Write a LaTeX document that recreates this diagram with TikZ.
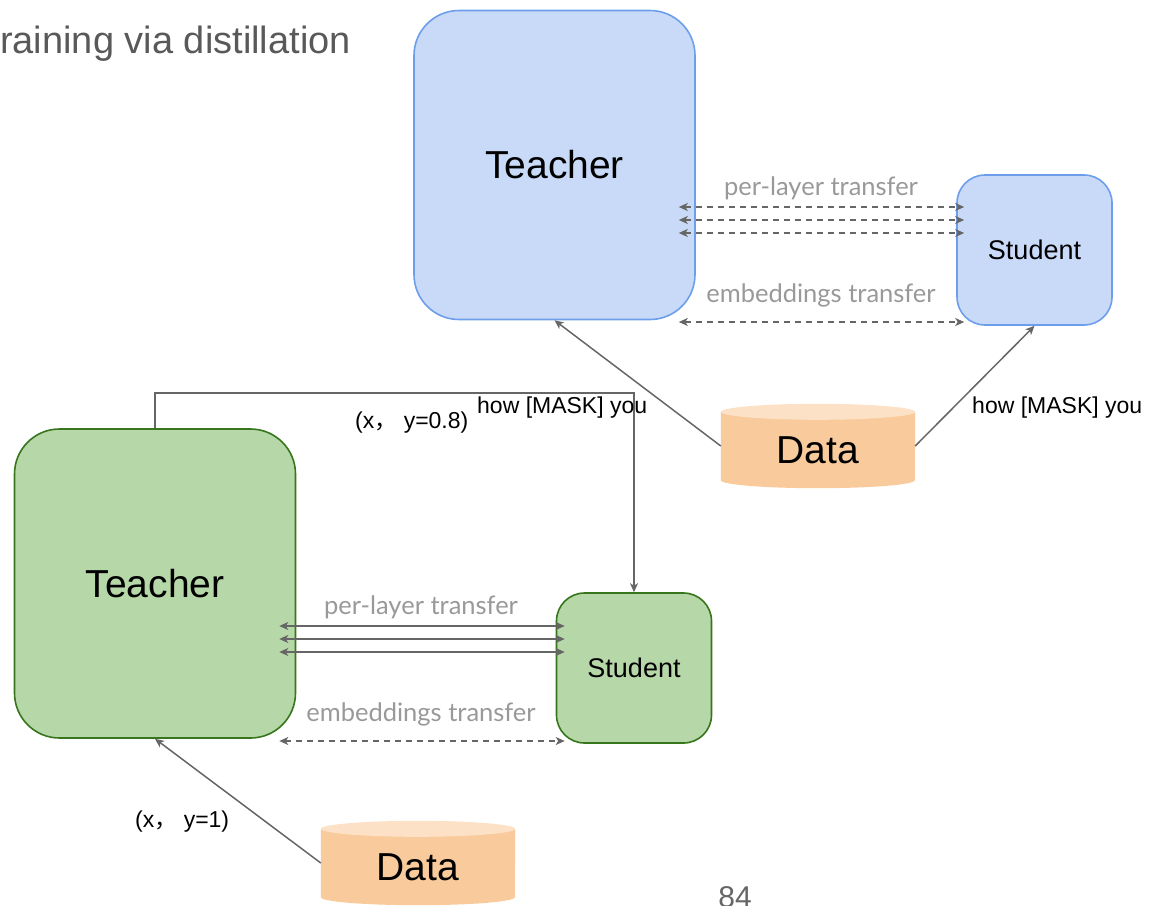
\documentclass[tikz,border=0pt]{standalone}
\usepackage{fontspec}
\setmainfont{Liberation Sans}
\newfontfamily\labelfont{Lato}
\newfontfamily\cjkfont{Noto Sans CJK SC}
\usetikzlibrary{calc,arrows.meta}

\definecolor{blueFill}{HTML}{C9DAF8}
\definecolor{blueLine}{HTML}{6D9EEB}
\definecolor{greenFill}{HTML}{B6D7A8}
\definecolor{greenLine}{HTML}{38761D}
\definecolor{dataBody}{HTML}{F9CB9C}
\definecolor{dataTop}{HTML}{FCE1C6}
\definecolor{wireGray}{HTML}{666666}
\definecolor{noteGray}{HTML}{999999}
\definecolor{titleGray}{HTML}{595959}

\tikzset{
  box/.style={rectangle, rounded corners=45pt, line width=1.6pt, inner sep=0pt},
  smallbox/.style={rectangle, rounded corners=28pt, line width=1.6pt, inner sep=0pt,
    minimum width=155pt, minimum height=150pt, font=\fontsize{27}{30}\selectfont},
  bigbox/.style={box, minimum width=281pt, minimum height=309pt, font=\fontsize{39}{44}\selectfont},
  bluebox/.style={fill=blueFill, draw=blueLine},
  greenbox/.style={fill=greenFill, draw=greenLine},
  datahold/.style={rectangle, inner sep=0pt, minimum width=194pt, minimum height=84pt},
  datatext/.style={font=\fontsize{39}{44}\selectfont, inner sep=0pt},
  wire/.style={draw=wireGray, line width=1.5pt},
  feed/.style={wire, -{Stealth[length=9pt,width=8pt,inset=2.5pt]}},
  both/.style={wire, {Stealth[length=9pt,width=8pt,inset=2.5pt]}-{Stealth[length=9pt,width=8pt,inset=2.5pt]}},
  dash both/.style={both, dash pattern=on 6pt off 5pt},
  note/.style={text=noteGray, font=\labelfont\fontsize{25.5}{28}\selectfont, inner sep=0pt},
  blacknote/.style={text=black, font=\fontsize{23}{26}\selectfont, inner sep=0pt, anchor=base west},
}

\newcommand{\cylfill}[1]{%
  \fill[dataBody] ($(#1.north west)+(0,8)$) -- ($(#1.south west)+(0,-8)$)
    arc[start angle=180, end angle=0, x radius=97, y radius=8]
    -- ($(#1.north east)+(0,8)$) -- cycle;
  \fill[dataTop] ($(#1.north)+(0,8)$) ellipse[x radius=97, y radius=8];
}

\begin{document}
\begin{tikzpicture}[x=1pt, y=-1pt]
\useasboundingbox (0,0) rectangle (1161,905);

% title and page number
\node[anchor=base west, inner sep=0pt, text=titleGray, font=\fontsize{38}{44}\selectfont]
  (title) at (0,53) {raining via distillation};
\node[anchor=base, inner sep=0pt, text=wireGray, font=\fontsize{30}{34}\selectfont]
  (pagenum) at (735,907) {84};

% upper (blue) setup
\node[bigbox, bluebox] (teacherB) at (554.5,165) {Teacher};
\node[smallbox, bluebox] (studentB) at (1034.5,250) {Student};
\node[datahold] (dataB) at (818,446) {};
\cylfill{dataB}
\node[datatext] (dataBtext) at ($(dataB.center)+(0,4)$) {Data};

\draw[dash both] ($(teacherB.east)+(-17,42)$) -- ($(studentB.west)+(8,-43)$);
\draw[dash both] ($(teacherB.east)+(-17,55)$) -- ($(studentB.west)+(8,-30)$);
\draw[dash both] ($(teacherB.east)+(-17,68)$) -- ($(studentB.west)+(8,-17)$);
\draw[dash both] ($(teacherB.east)+(-17,157)$) -- ($(studentB.west)+(8,72)$);
\node[note] (plB) at (821,188) {per-layer transfer};
\node[note] (embB) at (821,295) {embeddings transfer};

\draw[feed] (dataB.west) -- (teacherB.south);
\draw[feed] (dataB.east) -- (studentB.south);
\node[blacknote] (maskB) at (972,413) {how [MASK] you};

% lower (green) setup
\node[bigbox, greenbox] (teacherG) at (155,583.5) {Teacher};
\node[smallbox, greenbox] (studentG) at (634,668) {Student};
\node[datahold] (dataG) at (418,863) {};
\cylfill{dataG}
\node[datatext] (dataGtext) at ($(dataG.center)+(0,4)$) {Data};

\draw[both] ($(teacherG.east)+(-17,42.5)$) -- ($(studentG.west)+(9,-42)$);
\draw[both] ($(teacherG.east)+(-17,55.5)$) -- ($(studentG.west)+(9,-29)$);
\draw[both] ($(teacherG.east)+(-17,68.5)$) -- ($(studentG.west)+(9,-16)$);
\draw[dash both] ($(teacherG.east)+(-17,157.5)$) -- ($(studentG.west)+(9,73)$);
\node[note] (plG) at (421,607) {per-layer transfer};
\node[note] (embG) at (421,714) {embeddings transfer};

\draw[feed] (dataG.west) -- (teacherG.south);
\draw[feed] (teacherG.north) -- ++(0,-35) -| (studentG.north);
\node[blacknote] (maskG) at (477,413) {how [MASK] you};
\node[blacknote] (softG) at (355,428) {(x{\cjkfont ，} y=0.8)};
\node[blacknote] (hardG) at (135,827) {(x{\cjkfont ，} y=1)};
\end{tikzpicture}
\end{document}
